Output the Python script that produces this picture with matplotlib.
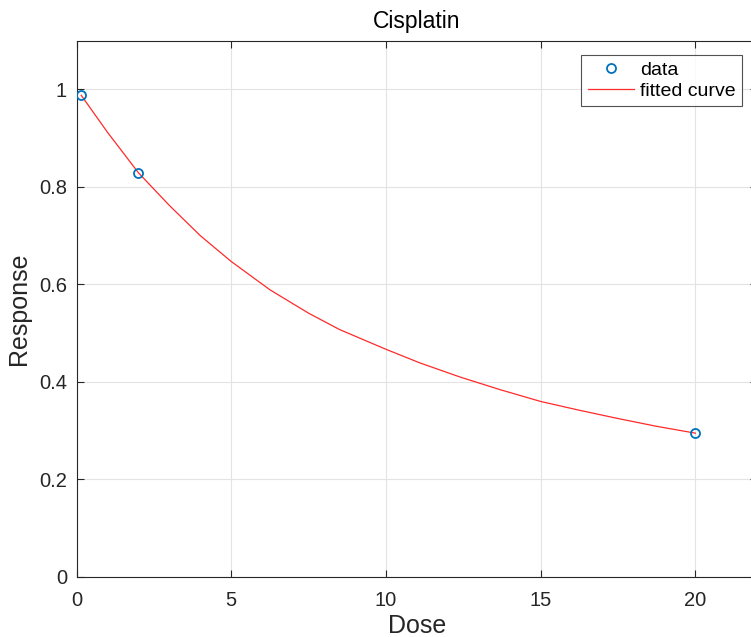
import matplotlib
matplotlib.use("Agg")
import matplotlib.pyplot as plt

plt.rcParams['font.family'] = ['Liberation Sans', 'DejaVu Sans']

# Observed data
dose = [0.15, 2.0, 20.0]
response = [0.988, 0.829, 0.295]

# Fitted curve values
curve_dose = [0.15, 1.0, 2.0, 3.0, 4.0, 5.0, 6.25, 7.5, 8.5, 10.0, 11.1,
              12.4, 13.7, 15.0, 16.25, 17.5, 18.75, 20.0]
curve_resp = [0.988, 0.912, 0.829, 0.762, 0.700, 0.647, 0.589, 0.541, 0.5075,
              0.467, 0.439, 0.410, 0.384, 0.360, 0.342, 0.325, 0.309, 0.295]

x_ticks = [0, 5, 10, 15, 20]
y_ticks = [0, 0.2, 0.4, 0.6, 0.8, 1]
y_ticklabels = ['0', '0.2', '0.4', '0.6', '0.8', '1']

fig = plt.figure(figsize=(7.51, 6.37), dpi=100)
ax = fig.add_axes([0.102, 0.0942, 0.9064, 0.8419])

ax.plot(dose, response, 'o', mfc='none', mec='#0072BD', ms=6.5, mew=1.3, label='data', zorder=3)
ax.plot(curve_dose, curve_resp, '-', color='#ff2a2a', lw=0.9, label='fitted curve', zorder=2)

ax.set_xlim(0, 22)
ax.set_ylim(0, 1.1)
ax.set_xticks(x_ticks)
ax.set_yticks(y_ticks)
ax.set_yticklabels(y_ticklabels)

ax.grid(True, color='#e3e3e3', lw=0.8)
ax.set_axisbelow(True)

for s in ax.spines.values():
    s.set_color('#262626')
    s.set_linewidth(0.8)

ax.tick_params(direction='in', length=5, width=0.8, colors='#262626',
               top=True, right=True, labelsize=14.5)
ax.tick_params(axis='x', pad=10)
ax.tick_params(axis='y', pad=7)
for lbl in ax.get_xticklabels() + ax.get_yticklabels():
    lbl.set_color('#262626')

ax.set_xlabel('Dose', fontsize=18, color='#262626', labelpad=3)
ax.set_ylabel('Response', fontsize=18, color='#262626', labelpad=6)
ax.set_title('Cisplatin', fontsize=16.5, color='#000000', pad=9)

leg = ax.legend(loc='upper right', bbox_to_anchor=(0.9775, 0.973), borderaxespad=0,
                fontsize=14, frameon=True, fancybox=False, handlelength=2.4,
                handletextpad=0.3, borderpad=0.32, labelspacing=0.15)
leg.get_frame().set_edgecolor('#262626')
leg.get_frame().set_linewidth(0.8)

fig.savefig('out.png', dpi=100)
